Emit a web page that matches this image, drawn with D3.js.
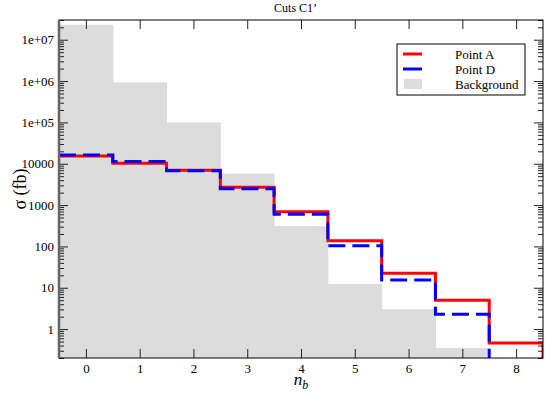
<!DOCTYPE html>
<html>
<head>
<meta charset="utf-8">
<script src="https://cdn.jsdelivr.net/npm/d3@7"></script>
<style>
  body { margin: 0; background: #fff; }
  svg text { font-family: "Liberation Serif"; }
</style>
</head>
<body>
<div id="chart"></div>
<script>
// bins n_b = 0..8
var nb = [0, 1, 2, 3, 4, 5, 6, 7, 8];
var background = [2.3e7, 9.3e5, 1.0e5, 5.8e3, 310, 12.3, 3.05, 0.35, 0];
var pointA = [15500, 10300, 7000, 2700, 690, 137, 22.5, 5.0, 0.46];
var pointD = [16200, 11300, 6800, 2500, 600, 104, 15.5, 2.3, 0];
var yMajor = [1, 10, 100, 1000, 10000, 1e5, 1e6, 1e7];
var yMajorLabels = ["1", "10", "100", "1000", "10000", "1e+05", "1e+06", "1e+07"];

var serif = "Liberation Serif";

var margin = {top: 20, right: 2, bottom: 36, left: 59},
    width = 545 - margin.left - margin.right,
    height = 394 - margin.top - margin.bottom;

var svg = d3.select("#chart").append("svg")
    .attr("width", 545)
    .attr("height", 394)
    .attr("font-family", serif)
  .append("g")
    .attr("transform", "translate(" + margin.left + "," + margin.top + ")");

var x = d3.scaleLinear().domain([-0.5, 8.5]).range([0, width]);
var y = d3.scaleLog().domain([0.2, 3e7]).range([height, 0]);

svg.append("clipPath").attr("id", "clip")
  .append("rect").attr("width", width).attr("height", height);

var plot = svg.append("g").attr("clip-path", "url(#clip)");

// background bars
plot.selectAll(".bg")
    .data(nb.filter(function(d, i) { return background[i] > 0; }))
  .enter().append("rect")
    .attr("class", "bg")
    .attr("x", function(d) { return x(d - 0.5); })
    .attr("width", function(d) { return x(d + 0.5) - x(d - 0.5) + 0.5; })
    .attr("y", function(d) { return y(background[d]); })
    .attr("height", function(d) { return height - y(background[d]); })
    .attr("fill", "#dcdcdc");

// step outline for a series
function stepPoints(vals) {
  var pts = [];
  vals.forEach(function(v, i) {
    var yy = v > 0 ? y(v) : height + 10;
    pts.push([x(i - 0.5), yy]);
    pts.push([x(i + 0.5), yy]);
  });
  pts.push([x(8.5), height + 10]);
  return pts;
}
var line = d3.line();

plot.append("path")
    .attr("d", line(stepPoints(pointA)))
    .attr("fill", "none")
    .attr("stroke", "#ff0000")
    .attr("stroke-width", 3);

plot.append("path")
    .attr("d", line(stepPoints(pointD)))
    .attr("fill", "none")
    .attr("stroke", "#0000ff")
    .attr("stroke-width", 3)
    .attr("stroke-dasharray", "17,7");

// minor y ticks
var yMinor = [];
for (var k = -1; k <= 7; k++) {
  for (var m = 2; m <= 9; m++) {
    var v = m * Math.pow(10, k);
    if (v >= 0.2 && v <= 3e7) yMinor.push(v);
  }
}

function styleAxis(g) {
  g.attr("font-family", serif).attr("font-size", 13);
  g.select(".domain").remove();
  g.selectAll("line").attr("stroke", "#222");
  g.selectAll("text").attr("fill", "#000");
}

// left
svg.append("g").call(d3.axisLeft(y).tickValues(yMinor).tickSize(-5).tickFormat(""))
  .call(styleAxis);
svg.append("g").call(d3.axisLeft(y).tickValues(yMajor).tickSize(-9).tickPadding(5)
    .tickFormat(function(d, i) { return yMajorLabels[i]; }))
  .call(styleAxis);
// right
svg.append("g").attr("transform", "translate(" + width + ",0)")
  .call(d3.axisRight(y).tickValues(yMinor).tickSize(-5).tickFormat("")).call(styleAxis);
svg.append("g").attr("transform", "translate(" + width + ",0)")
  .call(d3.axisRight(y).tickValues(yMajor).tickSize(-9).tickFormat("")).call(styleAxis);
// bottom
svg.append("g").attr("transform", "translate(0," + height + ")")
  .call(d3.axisBottom(x).tickValues(nb).tickSize(-9).tickPadding(6).tickFormat(d3.format("d")))
  .call(styleAxis);
// top
svg.append("g")
  .call(d3.axisTop(x).tickValues(nb).tickSize(-9).tickFormat("")).call(styleAxis);

// frame
svg.append("rect")
    .attr("width", width).attr("height", height)
    .attr("fill", "none").attr("stroke", "#000").attr("stroke-width", 1);
svg.append("line")
    .attr("x1", 0).attr("x2", 0).attr("y1", 0).attr("y2", height)
    .attr("stroke", "#666").attr("stroke-width", 2.5);

// title
svg.append("text")
    .attr("x", x(3.9)).attr("y", -8)
    .attr("text-anchor", "middle")
    .attr("font-size", 12)
    .text("Cuts C1\u2019");

// axis labels
svg.append("text")
    .attr("transform", "translate(-33," + (height / 2) + ") rotate(-90)")
    .attr("text-anchor", "middle")
    .attr("font-size", 18)
    .text("\u03c3 (fb)");

var xl = svg.append("text")
    .attr("x", x(4)).attr("y", height + 27)
    .attr("text-anchor", "middle")
    .attr("font-size", 17);
xl.append("tspan").attr("font-style", "italic").text("n");
xl.append("tspan").attr("font-style", "italic").attr("font-size", 12).attr("dy", 4).text("b");

// legend
var leg = svg.append("g").attr("transform", "translate(" + (397 - margin.left) + "," + (44 - margin.top) + ")");
leg.append("rect").attr("width", 128).attr("height", 51)
    .attr("fill", "#fff").attr("stroke", "#000").attr("stroke-width", 1);
var legItems = [
  {label: "Point A", color: "#ff0000", type: "line"},
  {label: "Point D", color: "#0000ff", type: "line"},
  {label: "Background", color: "#dcdcdc", type: "box"}
];
legItems.forEach(function(d, i) {
  var cy = 10 + i * 15;
  if (d.type === "line") {
    leg.append("line").attr("x1", 6).attr("x2", 25).attr("y1", cy).attr("y2", cy)
      .attr("stroke", d.color).attr("stroke-width", 3);
  } else {
    leg.append("rect").attr("x", 7).attr("y", cy - 5).attr("width", 18).attr("height", 10)
      .attr("fill", d.color);
  }
  leg.append("text").attr("x", 58).attr("y", cy + 4.5)
    .attr("font-size", 13).text(d.label);
});
</script>
</body>
</html>
